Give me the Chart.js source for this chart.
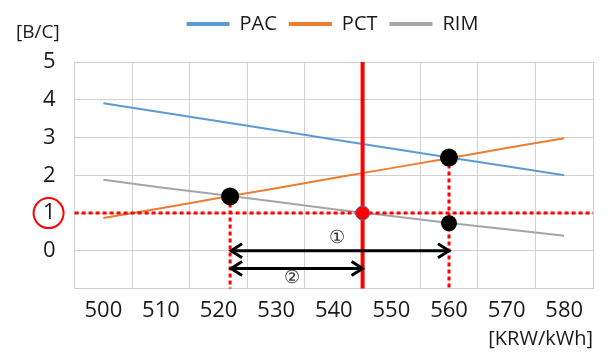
<!DOCTYPE html>
<html>
<head>
<meta charset="utf-8">
<script src="https://cdn.jsdelivr.net/npm/chart.js@4.4.1/dist/chart.umd.min.js"></script>
<style>
  html, body { margin: 0; padding: 0; background: #fff; }
  #wrap { width: 610px; height: 362px; }
</style>
</head>
<body>
<div id="wrap"><canvas id="chart" width="610" height="362"></canvas></div>
<script>
// electricity price [KRW/kWh] and B/C ratio per scenario
const prices = [500, 510, 520, 530, 540, 550, 560, 570, 580];
const pac = [3.91, 3.67, 3.43, 3.19, 2.95, 2.71, 2.47, 2.24, 2.00];
const pct = [0.87, 1.13, 1.40, 1.66, 1.93, 2.19, 2.45, 2.72, 2.98];
const rim = [1.88, 1.68, 1.49, 1.30, 1.10, 0.92, 0.74, 0.57, 0.40];

// marked points and guides
const refPrice = 545;
const refBC = 1;
const dotX = [522, 560, 560];
const dotY = [1.44, 2.47, 0.73];
const arrowFrom = [522, 522];
const arrowTo = [560, 545];
const arrowY = [0, -0.47];
const arrowText = ["①", "②"];
const arrowTextX = [540.6, 532.8];
const arrowTextY = [0.33, -0.72];

const FONT = "'Open Sans', 'Noto Sans', sans-serif";
const GRID = "#d0d0d0";
const RED = "#ff0000";
const TEXT = "#1a1a1a";

const toPoints = (vals) => prices.map((p, i) => ({ x: p, y: vals[i] }));

function arrowHead(ctx, px, py, dir) {
  ctx.beginPath();
  ctx.moveTo(px + dir * 11, py - 7);
  ctx.lineTo(px, py);
  ctx.lineTo(px + dir * 11, py + 7);
  ctx.stroke();
}

const annotate = {
  id: "annotate",
  beforeInit(chart) {
    const fit = chart.legend.fit;
    chart.legend.fit = function () {
      fit.call(this);
      this.height += 18;
    };
  },
  afterLayout(chart) {
    chart.legend.left += 24;
    chart.legend.right += 24;
  },
  afterDatasetsDraw(chart) {
    const { ctx, chartArea: a, scales: { x, y } } = chart;
    ctx.save();

    // dotted guides
    ctx.strokeStyle = RED;
    ctx.lineWidth = 3;
    ctx.setLineDash([4, 3]);
    ctx.beginPath();
    ctx.moveTo(a.left, y.getPixelForValue(refBC));
    ctx.lineTo(a.right, y.getPixelForValue(refBC));
    for (let i = 0; i < 2; i++) {
      ctx.moveTo(x.getPixelForValue(dotX[i]), y.getPixelForValue(dotY[i]));
      ctx.lineTo(x.getPixelForValue(dotX[i]), a.bottom);
    }
    ctx.stroke();
    ctx.setLineDash([]);

    // reference price
    ctx.lineWidth = 4;
    ctx.beginPath();
    ctx.moveTo(x.getPixelForValue(refPrice), a.top);
    ctx.lineTo(x.getPixelForValue(refPrice), a.bottom);
    ctx.stroke();

    // double arrows
    ctx.strokeStyle = "#000";
    ctx.lineWidth = 3;
    ctx.lineJoin = "miter";
    arrowFrom.forEach((from, i) => {
      const x1 = x.getPixelForValue(from) + 1;
      const x2 = x.getPixelForValue(arrowTo[i]);
      const py = y.getPixelForValue(arrowY[i]);
      ctx.beginPath();
      ctx.moveTo(x1, py);
      ctx.lineTo(x2, py);
      ctx.stroke();
      arrowHead(ctx, x1, py, 1);
      arrowHead(ctx, x2, py, -1);
    });

    ctx.fillStyle = "#333";
    ctx.font = "18px " + FONT;
    ctx.textAlign = "center";
    ctx.textBaseline = "middle";
    arrowText.forEach((t, i) => {
      ctx.fillText(t, x.getPixelForValue(arrowTextX[i]), y.getPixelForValue(arrowTextY[i]));
    });

    // points
    const sizes = [9, 9, 8];
    dotX.forEach((dx, i) => {
      ctx.beginPath();
      ctx.arc(x.getPixelForValue(dx), y.getPixelForValue(dotY[i]), sizes[i], 0, Math.PI * 2);
      ctx.fillStyle = "#000";
      ctx.fill();
    });
    ctx.beginPath();
    ctx.arc(x.getPixelForValue(refPrice), y.getPixelForValue(refBC), 7, 0, Math.PI * 2);
    ctx.fillStyle = RED;
    ctx.fill();
    ctx.lineWidth = 1;
    ctx.strokeStyle = "#5a6f9a";
    ctx.stroke();

    ctx.restore();
  },
  afterDraw(chart) {
    const { ctx, chartArea: a, scales: { y } } = chart;
    ctx.save();
    ctx.fillStyle = TEXT;
    ctx.font = "19px " + FONT;
    ctx.textBaseline = "middle";
    ctx.textAlign = "left";
    ctx.fillText("[B/C]", 16, 33);
    ctx.font = "20px " + FONT;
    ctx.textAlign = "right";
    ctx.fillText("[KRW/kWh]", a.right, 339);

    // circle round the B/C = 1 tick
    ctx.strokeStyle = RED;
    ctx.lineWidth = 2;
    ctx.beginPath();
    ctx.arc(a.left - 26, y.getPixelForValue(refBC), 15, 0, Math.PI * 2);
    ctx.stroke();
    ctx.restore();
  }
};

new Chart(document.getElementById("chart"), {
  type: "line",
  data: {
    datasets: [
      { label: "PAC", data: toPoints(pac), borderColor: "#5b9bd5", backgroundColor: "#5b9bd5" },
      { label: "PCT", data: toPoints(pct), borderColor: "#ed7d31", backgroundColor: "#ed7d31" },
      { label: "RIM", data: toPoints(rim), borderColor: "#a5a5a5", backgroundColor: "#a5a5a5" }
    ]
  },
  options: {
    responsive: false,
    animation: false,
    layout: { padding: { left: 24, right: 17, top: 2, bottom: 29 } },
    elements: {
      line: { borderWidth: 2, tension: 0, fill: false },
      point: { radius: 0 }
    },
    plugins: {
      tooltip: { enabled: false },
      legend: {
        position: "top",
        labels: {
          boxWidth: 43,
          boxHeight: 4,
          padding: 12,
          color: TEXT,
          font: { family: FONT, size: 20 },
          generateLabels(chart) {
            return Chart.defaults.plugins.legend.labels.generateLabels(chart)
              .map(it => ({ ...it, lineWidth: 0, fillStyle: it.strokeStyle }));
          }
        }
      }
    },
    scales: {
      x: {
        type: "linear",
        min: prices[0] - 5,
        max: prices[prices.length - 1] + 5,
        grid: {
          color: (c) => (c.tick && prices.includes(c.tick.value)) ? "rgba(0,0,0,0)" : GRID,
          drawTicks: false
        },
        border: { color: GRID },
        ticks: {
          stepSize: 5,
          autoSkip: false,
          maxRotation: 0,
          padding: 9,
          color: TEXT,
          font: { family: FONT, size: 22 },
          callback: (v) => prices.includes(v) ? String(v) : ""
        }
      },
      y: {
        min: -1,
        max: 5,
        grid: { color: GRID, drawTicks: false },
        border: { color: GRID },
        ticks: {
          stepSize: 1,
          padding: 19,
          color: TEXT,
          font: { family: FONT, size: 22 },
          callback: (v) => v < 0 ? "" : String(v)
        }
      }
    }
  },
  plugins: [annotate]
});
</script>
</body>
</html>
